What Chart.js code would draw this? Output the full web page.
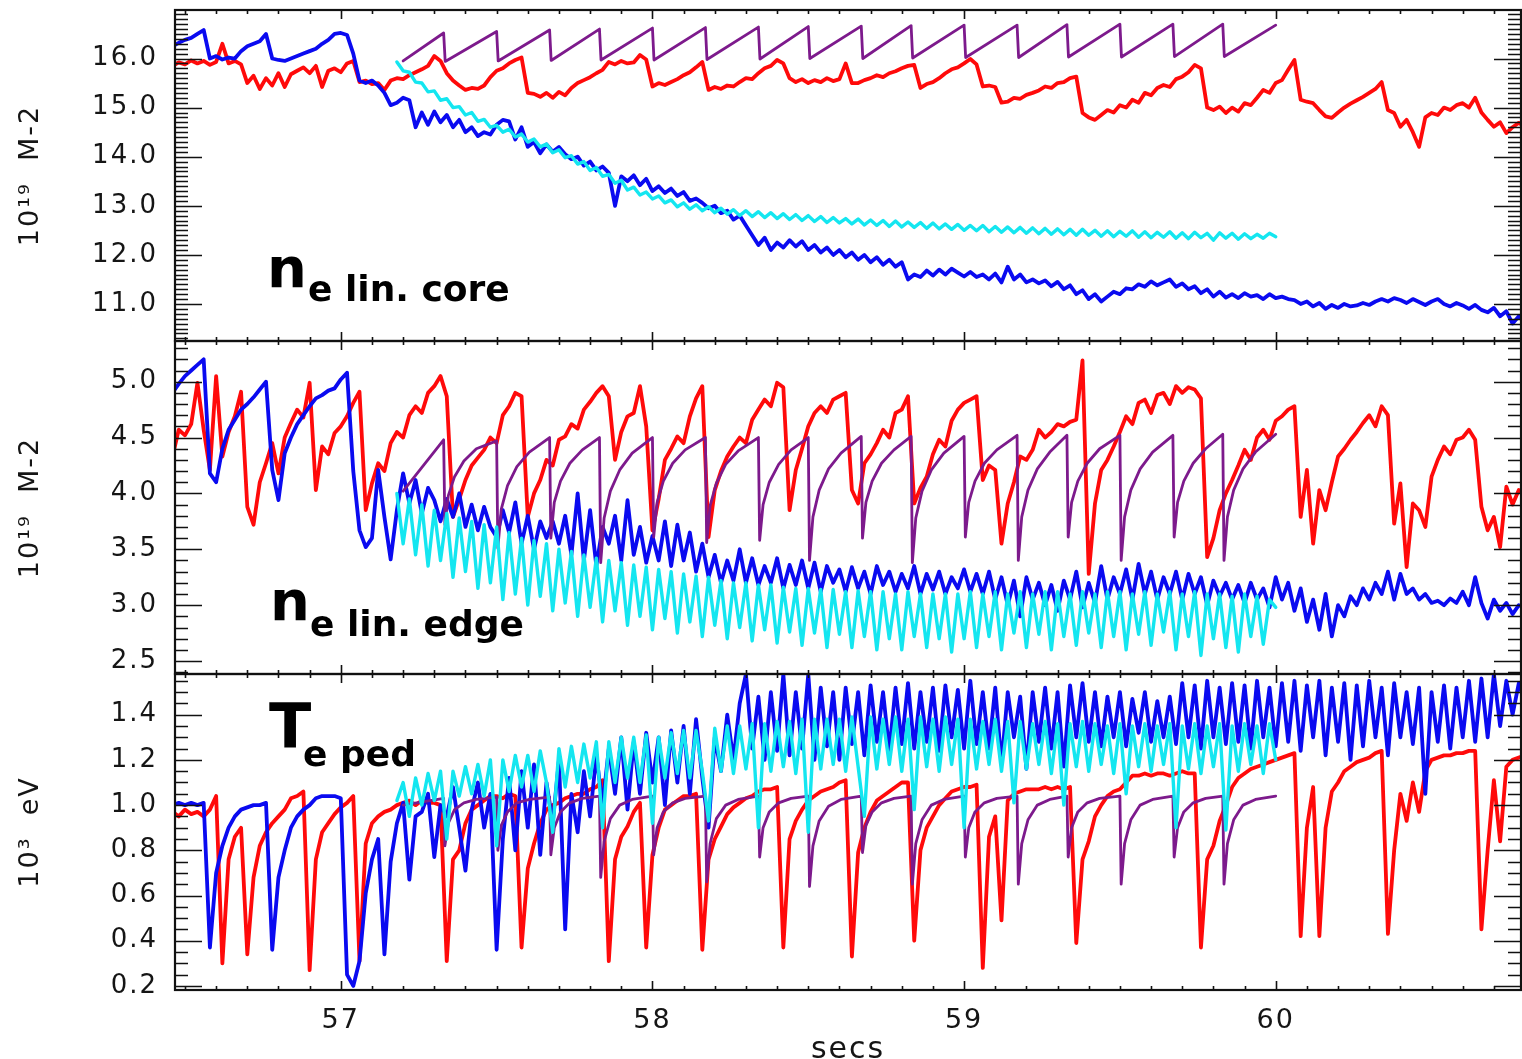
<!DOCTYPE html>
<html lang="en">
<head>
    <meta charset="UTF-8">
    <title>ELM pacing - core / edge density and pedestal Te</title>
    <script src="https://cdn.jsdelivr.net/npm/chart.js"></script>
    <style>
        body { margin: 0; overflow: hidden; background: #fff; }
        canvas { position: absolute; left: 0; }
    </style>
</head>
<body>
    <canvas id="coreChart" width="1522" height="350" style="top:0px"></canvas>
    <canvas id="edgeChart" width="1522" height="353" style="top:331px"></canvas>
    <canvas id="pedChart" width="1522" height="410" style="top:664px"></canvas>

    <script>
        // measured traces are sampled every DT seconds from T0,
        // simulated (cyan) traces start at T0_SIM
        const T0 = 56.46;
        const T0_SIM = 57.18;
        const DT = 0.02;

        // ---- n_e lin. core (10^19 m-2)
        const coreRed = [
            15.85, 15.92, 15.88, 15.96, 15.9, 15.95, 15.87, 15.93, 16.3, 15.9,
            15.95, 15.88, 15.5, 15.65, 15.38, 15.6, 15.45, 15.7, 15.42, 15.68,
            15.75, 15.82, 15.7, 15.85, 15.42, 15.75, 15.8, 15.72, 15.9, 15.95,
            15.52, 15.55, 15.48, 15.5, 15.36, 15.55, 15.6, 15.58, 15.66, 15.72,
            15.78, 15.85, 16.05, 15.95, 15.7, 15.55, 15.45, 15.36, 15.4, 15.38,
            15.45, 15.62, 15.75, 15.8, 15.9, 15.97, 16.02, 15.3, 15.28, 15.22,
            15.3, 15.2, 15.32, 15.25, 15.4, 15.5, 15.56, 15.62, 15.7, 15.77,
            15.93, 15.88, 15.95, 15.9, 15.92, 16.07, 15.98, 15.43, 15.5, 15.46,
            15.52, 15.58, 15.66, 15.72, 15.82, 15.93, 15.36, 15.42, 15.38, 15.45,
            15.43, 15.52, 15.6, 15.58, 15.7, 15.8, 15.85, 15.97, 15.9, 15.6,
            15.52, 15.58, 15.5, 15.56, 15.52, 15.6, 15.54, 15.58, 15.9, 15.5,
            15.5, 15.56, 15.6, 15.66, 15.62, 15.7, 15.74, 15.8, 15.85, 15.87,
            15.4, 15.48, 15.52, 15.6, 15.7, 15.78, 15.82, 15.9, 15.99, 15.88,
            15.43, 15.45, 15.42, 15.1, 15.12, 15.2, 15.18, 15.26, 15.3, 15.35,
            15.43, 15.4, 15.5, 15.52, 15.6, 15.63, 14.89, 14.8, 14.75, 14.85,
            14.95, 14.9, 15.05, 15.0, 15.16, 15.1, 15.3, 15.25, 15.4, 15.46,
            15.42, 15.58, 15.63, 15.72, 15.87, 15.8, 15.0, 14.95, 15.02, 14.89,
            15.0, 14.92, 15.09, 15.05, 15.2, 15.36, 15.3, 15.5, 15.56, 15.77,
            15.97, 15.16, 15.12, 15.09, 14.95, 14.82, 14.79, 14.9, 15.0, 15.08,
            15.15, 15.22, 15.3, 15.38, 15.52, 14.95, 14.89, 14.61, 14.75, 14.5,
            14.2, 14.8, 14.89, 14.85, 15.0, 14.95, 15.05, 15.09, 15.0, 15.2,
            14.9, 14.75, 14.61, 14.7, 14.48, 14.6, 14.69, 14.6
        ];
        const coreBlue = [
            16.25, 16.32, 16.38, 16.42, 16.5, 16.58, 16.0, 16.05, 15.98, 16.02,
            16.0, 16.15, 16.25, 16.3, 16.35, 16.5, 16.0, 15.97, 15.95, 16.0,
            16.05, 16.1, 16.15, 16.2, 16.3, 16.38, 16.5, 16.52, 16.48, 16.1,
            15.55, 15.5, 15.55, 15.45, 15.3, 15.05, 15.1, 15.2, 15.15, 14.6,
            14.9, 14.65, 14.92, 14.7, 14.85, 14.6, 14.75, 14.5, 14.6, 14.42,
            14.5, 14.45, 14.65, 14.75, 14.72, 14.35, 14.6, 14.2, 14.3, 14.07,
            14.25, 14.1, 14.2, 14.05, 13.95, 14.0, 13.82, 13.9, 13.72, 13.8,
            13.67, 13.0, 13.6, 13.5, 13.62, 13.42, 13.55, 13.3, 13.4, 13.26,
            13.35, 13.2, 13.28, 13.1, 13.15, 13.06, 12.95, 13.0, 12.85, 12.9,
            12.72, 12.8, 12.6, 12.4, 12.2, 12.35, 12.1, 12.25, 12.15, 12.3,
            12.17, 12.28, 12.1, 12.2, 12.05, 12.15, 12.0, 12.1, 11.95, 12.05,
            11.9, 12.0, 11.85, 11.95, 11.8, 11.9, 11.76, 11.85, 11.5, 11.6,
            11.55, 11.68, 11.58, 11.7, 11.6, 11.72, 11.64, 11.56, 11.65, 11.55,
            11.6, 11.5, 11.62, 11.44, 11.76, 11.5, 11.6, 11.44, 11.5, 11.42,
            11.48, 11.36, 11.45, 11.3, 11.38, 11.2, 11.28, 11.1, 11.2, 11.05,
            11.15, 11.25, 11.2, 11.32, 11.3, 11.4, 11.35, 11.46, 11.38, 11.44,
            11.5, 11.35, 11.42, 11.3, 11.36, 11.22, 11.3, 11.15, 11.25, 11.13,
            11.2, 11.12, 11.22, 11.15, 11.18, 11.1, 11.2, 11.12, 11.15, 11.1,
            11.08, 11.0, 11.05, 10.95, 11.02, 10.9, 10.98, 10.92, 11.0, 10.95,
            10.97, 11.02, 10.98, 11.05, 11.1, 11.05, 11.12, 11.08, 11.02, 11.1,
            11.04, 10.98, 11.05, 11.1, 11.0, 10.95, 11.02, 10.97, 10.9, 10.98,
            10.88, 10.83, 10.92, 10.75, 10.85, 10.6, 10.75, 10.69
        ];
        const coreCyan = [
            15.93, 15.75, 15.72, 15.52, 15.5, 15.32, 15.34, 15.15, 15.18, 15.0,
            15.02, 14.85, 14.9, 14.72, 14.76, 14.6, 14.64, 14.5, 14.56, 14.4,
            14.46, 14.3, 14.36, 14.2, 14.26, 14.08, 14.14, 13.98, 14.02, 13.85,
            13.9, 13.72, 13.78, 13.6, 13.64, 13.46, 13.52, 13.32, 13.38, 13.22,
            13.28, 13.14, 13.2, 13.06, 13.12, 12.98, 13.06, 12.93, 13.02, 12.9,
            12.98, 12.86, 12.95, 12.83, 12.92, 12.8, 12.9, 12.78, 12.88, 12.76,
            12.86, 12.74, 12.84, 12.72, 12.82, 12.7, 12.8, 12.68, 12.78, 12.66,
            12.76, 12.65, 12.74, 12.63, 12.73, 12.61, 12.71, 12.6, 12.7, 12.58,
            12.69, 12.57, 12.67, 12.56, 12.66, 12.54, 12.65, 12.53, 12.63, 12.52,
            12.62, 12.5, 12.6, 12.49, 12.6, 12.47, 12.58, 12.46, 12.57, 12.45,
            12.56, 12.44, 12.55, 12.43, 12.54, 12.42, 12.53, 12.41, 12.52, 12.4,
            12.52, 12.4, 12.5, 12.38, 12.49, 12.37, 12.48, 12.38, 12.49, 12.36,
            12.47, 12.35, 12.46, 12.36, 12.47, 12.34, 12.45, 12.33, 12.46, 12.35,
            12.44, 12.3, 12.45, 12.34, 12.44, 12.32, 12.43, 12.33, 12.42, 12.34,
            12.44, 12.37
        ];
        const corePurpleT = [
            57.20, 57.33, 57.335, 57.50, 57.505, 57.67, 57.675, 57.83, 57.835, 58.00,
            58.005, 58.17, 58.175, 58.34, 58.345, 58.50, 58.505, 58.67, 58.675, 58.83,
            58.835, 59.00, 59.005, 59.17, 59.175, 59.33, 59.335, 59.50, 59.505, 59.67,
            59.675, 59.83, 59.835, 60.00
        ];
        const corePurpleV = [
            15.95, 16.52, 15.94, 16.55, 15.95, 16.58, 15.96, 16.6, 15.97, 16.62,
            15.97, 16.63, 15.98, 16.64, 15.99, 16.65, 16.0, 16.66, 16.0, 16.67,
            16.01, 16.68, 16.02, 16.68, 16.02, 16.69, 16.03, 16.7, 16.03, 16.7,
            16.04, 16.7, 16.04, 16.68
        ];

        // ---- n_e lin. edge (10^19 m-2)
        const edgeRed = [
            4.33, 4.57, 4.52, 4.62, 4.99, 4.57, 4.21, 5.05, 4.33, 4.55,
            4.69, 4.91, 3.88, 3.72, 4.1, 4.27, 4.45, 4.18, 4.5, 4.63,
            4.75, 4.68, 4.99, 4.03, 4.42, 4.35, 4.54, 4.6, 4.69, 4.81,
            4.91, 3.85, 4.09, 4.27, 4.2, 4.45, 4.55, 4.5, 4.7, 4.78,
            4.72, 4.9, 4.96, 5.05, 4.87, 3.79, 3.95, 4.12, 4.25, 4.32,
            4.39, 4.5, 4.45, 4.7, 4.78, 4.9, 4.87, 3.79, 4.0, 4.12,
            4.3, 4.25, 4.48, 4.51, 4.62, 4.58, 4.75, 4.82, 4.9, 4.96,
            4.87, 4.3, 4.55, 4.69, 4.72, 4.96, 4.6, 3.67, 3.95, 4.3,
            4.4, 4.51, 4.45, 4.69, 4.85, 4.96, 3.61, 4.03, 4.2, 4.33,
            4.42, 4.5, 4.45, 4.66, 4.75, 4.84, 4.78, 4.99, 4.95, 3.85,
            4.21, 4.4, 4.6, 4.72, 4.78, 4.72, 4.84, 4.87, 4.9, 4.03,
            3.91, 4.27, 4.35, 4.45, 4.57, 4.5, 4.72, 4.75, 4.87, 3.91,
            4.05, 4.15, 4.35, 4.48, 4.42, 4.65, 4.75, 4.81, 4.84, 4.87,
            4.12, 4.25, 4.21, 3.55, 3.91, 4.1, 4.33, 4.3, 4.39, 4.57,
            4.5, 4.55, 4.62, 4.6, 4.64, 4.66, 5.19, 3.28, 3.91, 4.21,
            4.3, 4.42, 4.55, 4.69, 4.62, 4.81, 4.84, 4.72, 4.88, 4.9,
            4.8, 4.96, 4.9, 4.95, 4.93, 4.85, 3.43, 3.6, 3.85, 4.0,
            4.12, 4.25, 4.39, 4.3, 4.5, 4.57, 4.48, 4.65, 4.69, 4.75,
            4.78, 3.79, 4.21, 3.55, 4.03, 3.85, 4.1, 4.33, 4.4, 4.48,
            4.55, 4.63, 4.7, 4.6, 4.78, 4.7, 3.73, 4.09, 3.34, 3.91,
            3.85, 3.7, 4.15, 4.3, 4.42, 4.35, 4.48, 4.5, 4.57, 4.48,
            3.88, 3.67, 3.79, 3.52, 4.06, 3.9, 4.03, 4.0
        ];
        const edgeBlue = [
            4.9, 4.98, 5.05, 5.1, 5.15, 5.2, 4.18, 4.1, 4.4, 4.57,
            4.66, 4.75, 4.8, 4.86, 4.93, 5.0, 4.21, 3.94, 4.36, 4.5,
            4.62, 4.7, 4.78, 4.85, 4.88, 4.92, 4.94, 5.02, 5.08, 4.2,
            3.67, 3.52, 3.6, 4.21, 3.79, 3.41, 3.85, 4.18, 3.91, 4.12,
            3.82, 4.05, 3.94, 3.75, 3.95, 3.79, 4.0, 3.7, 3.9, 3.67,
            3.88, 3.7, 3.61, 3.85, 3.65, 3.92, 3.55, 3.8, 3.5, 3.75,
            3.6, 3.75, 3.55, 3.8, 3.45, 4.0, 3.4, 3.85, 3.35, 3.7,
            3.55, 3.8, 3.4, 3.94, 3.45, 3.7, 3.38, 3.62, 3.4, 3.75,
            3.35, 3.72, 3.4, 3.65, 3.3, 3.55, 3.25, 3.45, 3.2, 3.4,
            3.22, 3.5, 3.2, 3.42, 3.18, 3.35, 3.2, 3.42, 3.15, 3.36,
            3.18, 3.4, 3.15, 3.38, 3.12, 3.35, 3.2, 3.32, 3.12, 3.34,
            3.15, 3.3, 3.1, 3.35, 3.18, 3.3, 3.12, 3.28, 3.15, 3.35,
            3.1, 3.28, 3.14, 3.3, 3.1, 3.25, 3.15, 3.32, 3.12, 3.28,
            3.1, 3.3, 3.05, 3.25, 3.0, 3.22, 2.9, 3.25, 3.05, 3.2,
            3.0, 3.18, 2.95, 3.22, 3.05, 3.3, 2.98, 3.2, 3.02, 3.35,
            3.05, 3.25, 3.1, 3.32, 3.05, 3.37, 3.1, 3.3, 3.05, 3.25,
            3.1, 3.3, 3.05, 3.28, 3.1, 3.25, 3.0, 3.22, 3.08, 3.2,
            3.05, 3.18, 3.02, 3.2, 3.05, 3.15, 2.98, 3.25, 3.05, 3.2,
            2.95, 3.15, 2.85, 3.05, 2.78, 3.1, 2.72, 3.0, 2.9, 3.08,
            3.0, 3.15, 3.05, 3.2, 3.1, 3.3, 3.05, 3.28, 3.1, 3.15,
            3.05, 3.1, 3.02, 3.04, 3.0, 3.06, 3.02, 3.12, 3.0, 3.25,
            3.02, 2.88, 3.05, 2.95, 3.02, 2.92, 3.0, 2.98
        ];
        const edgeCyan = [
            4.0, 3.55, 3.95, 3.45, 3.9, 3.35, 3.85, 3.4, 3.82, 3.25,
            3.78, 3.3, 3.75, 3.15, 3.72, 3.2, 3.7, 3.05, 3.65, 3.1,
            3.6, 3.0, 3.58, 3.08, 3.55, 2.95, 3.5, 3.02, 3.48, 2.9,
            3.45, 2.98, 3.42, 2.85, 3.4, 2.95, 3.38, 2.82, 3.36, 2.9,
            3.34, 2.78, 3.32, 2.88, 3.3, 2.75, 3.28, 2.85, 3.26, 2.72,
            3.25, 2.82, 3.22, 2.7, 3.2, 2.8, 3.2, 2.68, 3.18, 2.78,
            3.18, 2.66, 3.16, 2.76, 3.15, 2.64, 3.15, 2.75, 3.14, 2.62,
            3.14, 2.74, 3.12, 2.62, 3.13, 2.72, 3.12, 2.6, 3.12, 2.7,
            3.1, 2.6, 3.12, 2.72, 3.1, 2.62, 3.1, 2.7, 3.1, 2.58,
            3.1, 2.7, 3.12, 2.62, 3.1, 2.72, 3.12, 2.6, 3.1, 2.75,
            3.12, 2.62, 3.1, 2.74, 3.12, 2.6, 3.12, 2.72, 3.1, 2.64,
            3.12, 2.75, 3.1, 2.62, 3.12, 2.72, 3.12, 2.6, 3.1, 2.74,
            3.12, 2.64, 3.1, 2.76, 3.12, 2.6, 3.1, 2.72, 3.12, 2.55,
            3.1, 2.7, 3.1, 2.62, 3.08, 2.58, 3.1, 2.72, 3.08, 2.65,
            3.05, 2.98
        ];

        // pellet pacing model (purple): same pacing times for edge and pedestal
        const pacedT = [
            57.20, 57.33,
            57.334, 57.345, 57.365, 57.395, 57.435, 57.50,
            57.504, 57.515, 57.535, 57.565, 57.605, 57.67,
            57.674, 57.685, 57.705, 57.735, 57.775, 57.83,
            57.834, 57.845, 57.865, 57.895, 57.935, 58.00,
            58.004, 58.015, 58.035, 58.065, 58.105, 58.17,
            58.174, 58.185, 58.205, 58.235, 58.275, 58.34,
            58.344, 58.355, 58.375, 58.405, 58.445, 58.50,
            58.504, 58.515, 58.535, 58.565, 58.605, 58.67,
            58.674, 58.685, 58.705, 58.735, 58.775, 58.83,
            58.834, 58.845, 58.865, 58.895, 58.935, 59.00,
            59.004, 59.015, 59.035, 59.065, 59.105, 59.17,
            59.174, 59.185, 59.205, 59.235, 59.275, 59.33,
            59.334, 59.345, 59.365, 59.395, 59.435, 59.50,
            59.504, 59.515, 59.535, 59.565, 59.605, 59.67,
            59.674, 59.685, 59.705, 59.735, 59.775, 59.83,
            59.834, 59.845, 59.865, 59.895, 59.935, 60.00
        ];
        const edgePurple = [
            4.02, 4.48,
            3.72, 3.98, 4.15, 4.29, 4.4, 4.47,
            3.51, 3.86, 4.07, 4.24, 4.37, 4.5,
            3.6, 3.92, 4.11, 4.27, 4.39, 4.5,
            3.38, 3.78, 4.02, 4.21, 4.36, 4.5,
            3.61, 3.92, 4.11, 4.27, 4.39, 4.5,
            3.56, 3.89, 4.09, 4.26, 4.38, 4.5,
            3.58, 3.9, 4.1, 4.26, 4.39, 4.5,
            3.4, 3.79, 4.03, 4.22, 4.36, 4.51,
            3.6, 3.92, 4.11, 4.27, 4.39, 4.51,
            3.38, 3.78, 4.02, 4.21, 4.36, 4.51,
            3.61, 3.92, 4.11, 4.27, 4.39, 4.52,
            3.4, 3.79, 4.03, 4.22, 4.37, 4.52,
            3.61, 3.92, 4.11, 4.27, 4.4, 4.52,
            3.4, 3.79, 4.03, 4.22, 4.37, 4.52,
            3.61, 3.92, 4.11, 4.27, 4.4, 4.53,
            3.4, 3.79, 4.03, 4.22, 4.37, 4.53
        ];

        // ---- Te ped (10^3 eV)
        const pedRed = [
            0.97, 0.95, 0.98, 0.96, 0.97, 0.95, 0.98, 1.04, 0.3, 0.76,
            0.86, 0.9, 0.34, 0.68, 0.82, 0.88, 0.92, 0.95, 0.98, 1.03,
            1.04, 1.06, 0.27, 0.76, 0.88, 0.92, 0.96, 0.99, 1.01, 1.04,
            0.31, 0.83, 0.92, 0.95, 0.97, 0.98, 1.0, 1.01, 1.02, 1.0,
            1.02, 1.01, 1.01, 1.0, 0.31, 0.76, 0.8, 0.92, 0.98, 1.0,
            1.02, 1.04, 1.04, 1.03, 1.05, 1.04, 0.37, 0.72, 0.83, 0.92,
            0.98, 1.0, 1.01, 1.03, 1.04, 1.05, 1.05, 1.07, 1.08, 1.11,
            0.31, 0.76, 0.86, 0.905, 0.97, 1.01, 0.37, 0.78, 0.9, 0.98,
            1.0, 1.02, 1.04, 1.04, 1.05, 0.36, 0.76, 0.85, 0.905, 0.96,
            0.99, 1.01, 1.03, 1.04, 1.06, 1.07, 1.07, 1.08, 0.37, 0.85,
            0.93, 0.98, 1.02, 1.04, 1.06, 1.07, 1.08, 1.1, 1.11, 0.33,
            0.79, 0.9, 0.97, 1.02, 1.04, 1.06, 1.08, 1.1, 1.1, 0.4,
            0.8, 0.9, 0.95, 1.0, 1.03, 1.06, 1.07, 1.08, 1.08, 1.09,
            0.28, 0.86, 0.95, 0.49, 1.02, 1.05, 1.06, 1.07, 1.07, 1.07,
            1.08, 1.07, 1.08, 1.07, 1.08, 0.39, 0.76, 0.84, 0.95, 1.0,
            1.04, 1.06, 1.07, 1.1, 1.13, 1.13, 1.14, 1.13, 1.14, 1.14,
            1.13, 1.14, 1.15, 1.14, 1.14, 0.37, 0.76, 0.82, 0.93, 1.0,
            1.08, 1.12, 1.14, 1.16, 1.17, 1.18, 1.19, 1.2, 1.21, 1.22,
            1.23, 0.42, 0.9, 1.08, 0.42, 0.9, 1.06, 1.1, 1.15, 1.17,
            1.19, 1.2, 1.21, 1.23, 1.24, 0.43, 0.8, 1.05, 0.93, 1.1,
            0.97, 1.15, 1.2, 1.21, 1.22, 1.22, 1.23, 1.23, 1.24, 1.24,
            0.45, 0.8, 1.11, 0.84, 1.17, 1.2, 1.21, 1.22
        ];
        const pedBlue = [
            1.0, 1.01, 1.0, 1.01, 1.0, 1.01, 0.37, 0.7, 0.82, 0.9,
            0.95, 0.98, 0.99, 1.0, 1.0, 1.01, 0.36, 0.68, 0.8, 0.9,
            0.95, 0.98, 1.0, 1.03, 1.04, 1.04, 1.04, 1.03, 0.25, 0.2,
            0.31, 0.61, 0.76, 0.85, 0.34, 0.75, 0.92, 1.01, 0.67, 0.95,
            0.97, 1.05, 0.77, 1.0, 0.95, 1.08, 0.9, 0.71, 0.98, 1.1,
            0.9, 1.05, 0.36, 0.85, 1.12, 0.8, 1.15, 0.9, 1.18, 0.78,
            1.1, 0.92, 1.2, 0.45, 1.05, 0.88, 1.15, 0.95, 1.22, 1.0,
            1.25, 1.05, 1.3, 0.98, 1.28, 1.05, 1.32, 1.1, 1.3, 1.0,
            1.33, 1.1, 1.35, 1.05, 1.38, 1.12, 0.9, 1.3, 1.15, 1.4,
            1.2, 1.45, 1.58, 1.25, 1.48, 1.2, 1.5, 1.24, 1.58, 1.22,
            1.5, 1.25, 1.58, 1.2, 1.52, 1.26, 1.5, 1.2, 1.52, 1.27,
            1.5, 1.22, 1.53, 1.28, 1.5, 1.24, 1.52, 1.27, 1.54, 1.25,
            1.5, 1.28, 1.52, 1.24, 1.53, 1.3, 1.51, 1.25, 1.55, 1.27,
            1.5, 1.25, 1.52, 1.18, 1.5, 1.3, 1.48, 1.16, 1.5, 1.28,
            1.52, 1.25, 1.5, 1.17, 1.53, 1.3, 1.54, 1.28, 1.5, 1.26,
            1.48, 1.3, 1.5, 1.26, 1.47, 1.32, 1.5, 1.28, 1.46, 1.3,
            1.48, 1.27, 1.54, 1.3, 1.53, 1.25, 1.55, 1.3, 1.52, 1.27,
            1.54, 1.28, 1.53, 1.25, 1.55, 1.3, 1.52, 1.26, 1.54, 1.28,
            1.55, 1.24, 1.53, 1.3, 1.55, 1.22, 1.52, 1.28, 1.54, 1.2,
            1.53, 1.26, 1.55, 1.3, 1.52, 1.22, 1.54, 1.3, 1.5, 1.27,
            1.52, 1.05, 1.5, 1.28, 1.53, 1.25, 1.52, 1.3, 1.55, 1.28,
            1.56, 1.3, 1.58, 1.35, 1.55, 1.4, 1.54, 1.45
        ];
        const pedCyan = [
            1.02, 1.1, 0.95, 1.12, 1.0, 1.14, 1.02, 1.15, 0.85, 1.15,
            1.04, 1.17, 1.05, 1.18, 1.04, 1.2, 0.82, 1.2, 1.06, 1.22,
            1.08, 1.22, 1.06, 1.24, 1.1, 0.88, 1.25, 1.08, 1.26, 1.1,
            1.27, 1.12, 1.28, 0.9, 1.28, 1.1, 1.3, 1.12, 1.3, 1.1,
            1.31, 0.92, 1.3, 1.12, 1.32, 1.14, 1.33, 1.12, 1.33, 1.15,
            0.93, 1.34, 1.15, 1.35, 1.14, 1.35, 1.16, 1.36, 0.9, 1.36,
            1.15, 1.37, 1.17, 1.37, 1.14, 1.38, 0.88, 1.38, 1.16, 1.38,
            1.18, 1.38, 1.15, 1.39, 1.17, 0.95, 1.39, 1.16, 1.38, 1.18,
            1.39, 1.15, 1.38, 0.98, 1.39, 1.17, 1.38, 1.15, 1.39, 1.18,
            1.38, 0.9, 1.38, 1.16, 1.37, 1.18, 1.38, 1.15, 1.37, 1.01,
            1.37, 1.16, 1.36, 1.18, 1.37, 1.14, 1.36, 1.0, 1.36, 1.17,
            1.37, 1.15, 1.36, 1.18, 1.35, 1.14, 1.36, 1.05, 1.35, 1.17,
            1.36, 1.15, 1.35, 1.18, 1.36, 0.9, 1.35, 1.16, 1.36, 1.14,
            1.35, 1.17, 1.36, 0.89, 1.35, 1.15, 1.36, 1.18, 1.35, 1.14,
            1.36, 1.2
        ];
        const pedPurple = [
            1.0, 1.03,
            0.82, 0.92, 0.98, 1.01, 1.025, 1.035,
            0.8, 0.91, 0.97, 1.01, 1.025, 1.035,
            0.78, 0.9, 0.97, 1.01, 1.03, 1.04,
            0.68, 0.84, 0.94, 1.0, 1.025, 1.04,
            0.78, 0.9, 0.97, 1.01, 1.03, 1.04,
            0.66, 0.83, 0.94, 1.0, 1.025, 1.04,
            0.77, 0.9, 0.97, 1.01, 1.03, 1.04,
            0.64, 0.82, 0.93, 0.995, 1.025, 1.04,
            0.79, 0.91, 0.97, 1.01, 1.03, 1.04,
            0.65, 0.83, 0.935, 1.0, 1.025, 1.04,
            0.77, 0.9, 0.97, 1.01, 1.03, 1.04,
            0.65, 0.83, 0.935, 1.0, 1.025, 1.04,
            0.77, 0.9, 0.97, 1.01, 1.03, 1.04,
            0.65, 0.83, 0.935, 1.0, 1.025, 1.04,
            0.77, 0.9, 0.97, 1.01, 1.03, 1.04,
            0.65, 0.83, 0.935, 1.0, 1.025, 1.04
        ];

        const X_MIN = 56.468, X_MAX = 60.787;
        const RED = '#ff0a0a', BLUE = '#0a0af0', CYAN = '#14e6f0', PURPLE = '#7d1a8c';

        Chart.defaults.font.family = '"DejaVu Sans", sans-serif';
        Chart.defaults.color = '#151515';

        function sampled(t0, vals) {
            return vals.map((v, i) => ({ x: Math.round((t0 + i * DT) * 1000) / 1000, y: v }));
        }
        function paired(ts, vs) {
            return ts.map((t, i) => ({ x: t, y: vs[i] }));
        }
        function trace(data, color, width) {
            return {
                data: data,
                borderColor: color,
                borderWidth: width,
                pointRadius: 0,
                tension: 0,
                fill: false,
                borderJoinStyle: 'round',
                borderCapStyle: 'round'
            };
        }

        // frame, inward ticks on all four sides and the big panel label
        const framePlugin = {
            id: 'frame',
            beforeDraw(chart) { chart.ctx.letterSpacing = '2px'; },
            beforeDatasetsDraw(chart) { chart.ctx.letterSpacing = '0px'; },
            afterDraw(chart, args, o) {
                const { ctx, chartArea: a, scales: { x, y } } = chart;
                ctx.save();
                ctx.strokeStyle = '#111';
                ctx.lineWidth = 1.6;
                ctx.beginPath();
                for (let k = Math.ceil(x.min * 10); k <= Math.floor(x.max * 10); k++) {
                    const px = Math.round(x.getPixelForValue(k / 10)) + 0.5;
                    const len = k % 10 === 0 ? 9 : 4;
                    ctx.moveTo(px, a.top); ctx.lineTo(px, a.top + len);
                    ctx.moveTo(px, a.bottom); ctx.lineTo(px, a.bottom - len);
                }
                for (let k = Math.ceil(y.min / o.minor - 1e-6); k <= Math.floor(y.max / o.minor + 1e-6); k++) {
                    const v = k * o.minor;
                    const r = v / o.major;
                    const len = Math.abs(r - Math.round(r)) < 1e-6 ? 27 : 13;
                    const py = Math.round(y.getPixelForValue(v)) + 0.5;
                    ctx.moveTo(a.left, py); ctx.lineTo(a.left + len, py);
                    ctx.moveTo(a.right, py); ctx.lineTo(a.right - len, py);
                }
                ctx.stroke();
                ctx.lineWidth = 2.2;
                ctx.strokeRect(a.left, a.top, a.right - a.left, a.bottom - a.top);

                ctx.fillStyle = '#000';
                ctx.textBaseline = 'alphabetic';
                ctx.font = 'bold ' + o.bigSize + 'px "DejaVu Sans"';
                ctx.fillText(o.big, o.bigX, o.bigY - o.top);
                ctx.font = 'bold 36px "DejaVu Sans"';
                ctx.fillText(o.sub, o.subX, o.subY - o.top);
                ctx.restore();
            }
        };

        function makePanel(p) {
            const showX = !!p.xTitle;
            new Chart(document.getElementById(p.canvas), {
                type: 'line',
                data: { datasets: p.sets },
                plugins: [framePlugin],
                options: {
                    responsive: false,
                    devicePixelRatio: 1,
                    animation: false,
                    events: [],
                    layout: { padding: { left: 0, right: 1, top: p.padTop, bottom: p.padBottom } },
                    plugins: {
                        legend: { display: false },
                        tooltip: { enabled: false },
                        frame: Object.assign({ top: p.top }, p.frame)
                    },
                    scales: {
                        x: {
                            type: 'linear',
                            min: X_MIN,
                            max: X_MAX,
                            display: showX,
                            grid: { display: false },
                            border: { display: false },
                            ticks: {
                                stepSize: 1,
                                includeBounds: false,
                                padding: 7,
                                font: { size: 27 },
                                callback: v => String(v)
                            },
                            title: {
                                display: showX,
                                text: p.xTitle || '',
                                font: { size: 30 },
                                padding: { top: 0, bottom: 6 }
                            },
                            afterFit: s => {
                                if (showX) s.height = p.xHeight;
                                s.paddingLeft = 0; s.paddingRight = 0;
                            }
                        },
                        y: {
                            min: p.yMin,
                            max: p.yMax,
                            grid: { display: false },
                            border: { display: false },
                            ticks: {
                                stepSize: p.step,
                                includeBounds: false,
                                padding: 9,
                                font: { size: 26 },
                                callback: v => v.toFixed(1)
                            },
                            title: {
                                display: true,
                                text: p.yTitle,
                                font: { size: 27 },
                                padding: { top: 15, bottom: 0 }
                            },
                            afterFit: s => { s.width = 175; s.paddingTop = 0; s.paddingBottom = 0; }
                        }
                    }
                }
            });
        }

        makePanel({
            canvas: 'coreChart', top: 0, padTop: 10, padBottom: 9,
            yMin: 10.246, yMax: 16.988, step: 1, yTitle: '10¹⁹  M-2',
            frame: { minor: 0.1, major: 1, big: 'n', bigSize: 56, bigX: 267, bigY: 287,
                     sub: 'e lin. core', subX: 308, subY: 301 },
            sets: [
                trace(sampled(T0_SIM, coreCyan), CYAN, 3.4),
                trace(paired(corePurpleT, corePurpleV), PURPLE, 2.8),
                trace(sampled(T0, coreBlue), BLUE, 3.8),
                trace(sampled(T0, coreRed), RED, 3.8)
            ]
        });

        makePanel({
            canvas: 'edgeChart', top: 331, padTop: 10, padBottom: 10,
            yMin: 2.384, yMax: 5.364, step: 0.5, yTitle: '10¹⁹  M-2',
            frame: { minor: 0.1, major: 0.5, big: 'n', bigSize: 56, bigX: 270, bigY: 620,
                     sub: 'e lin. edge', subX: 310, subY: 636 },
            sets: [
                trace(sampled(T0_SIM, edgeCyan), CYAN, 3.4),
                trace(paired(pacedT, edgePurple), PURPLE, 2.8),
                trace(sampled(T0, edgeBlue), BLUE, 3.8),
                trace(sampled(T0, edgeRed), RED, 3.8)
            ]
        });

        makePanel({
            canvas: 'pedChart', top: 664, padTop: 10, padBottom: 0, xHeight: 84, xTitle: 'secs',
            yMin: 0.182, yMax: 1.58, step: 0.2, yTitle: '10³  eV',
            frame: { minor: 0.05, major: 0.2, big: 'T', bigSize: 62, bigX: 269, bigY: 748,
                     sub: 'e ped', subX: 303, subY: 766 },
            sets: [
                trace(sampled(T0_SIM, pedCyan), CYAN, 3.4),
                trace(paired(pacedT, pedPurple), PURPLE, 2.8),
                trace(sampled(T0, pedBlue), BLUE, 3.8),
                trace(sampled(T0, pedRed), RED, 3.8)
            ]
        });
    </script>
</body>
</html>
